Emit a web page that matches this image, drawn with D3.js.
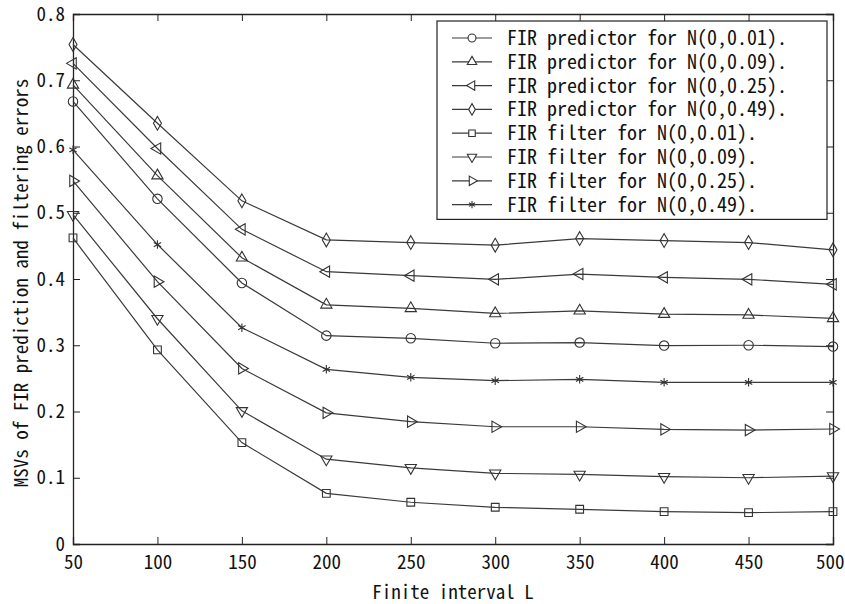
<!DOCTYPE html>
<html>
<head>
<meta charset="utf-8">
<script src="https://cdn.jsdelivr.net/npm/d3@7"></script>
<style>
  body { margin: 0; background: #fff; }
  svg text { font-family: "Noto Sans Mono CJK JP", "Liberation Mono", monospace; fill: #111; }
</style>
</head>
<body>
<div id="chart"></div>
<script>
// Finite interval L (x values)
const intervals = [50, 100, 150, 200, 250, 300, 350, 400, 450, 500];

// MSVs
const predictor001 = [0.668, 0.521, 0.394, 0.3145, 0.3105, 0.303, 0.304, 0.2995, 0.300, 0.298];
const predictor009 = [0.693, 0.556, 0.432, 0.361, 0.3557, 0.348, 0.352, 0.347, 0.3457, 0.3406];
const predictor025 = [0.7255, 0.597, 0.475, 0.411, 0.405, 0.3995, 0.4075, 0.4025, 0.3995, 0.392];
const predictor049 = [0.754, 0.635, 0.518, 0.459, 0.455, 0.451, 0.461, 0.458, 0.455, 0.444];
const filter001 = [0.462, 0.293, 0.153, 0.0765, 0.063, 0.0554, 0.0524, 0.0488, 0.0473, 0.0488];
const filter009 = [0.497, 0.340, 0.201, 0.128, 0.115, 0.1067, 0.105, 0.1016, 0.100, 0.1026];
const filter025 = [0.548, 0.396, 0.265, 0.198, 0.1846, 0.177, 0.177, 0.173, 0.172, 0.1736];
const filter049 = [0.595, 0.452, 0.3265, 0.2637, 0.2516, 0.2465, 0.2486, 0.244, 0.244, 0.244];

const seriesLabels = [
  'FIR predictor for N(0,0.01).',
  'FIR predictor for N(0,0.09).',
  'FIR predictor for N(0,0.25).',
  'FIR predictor for N(0,0.49).',
  'FIR filter for N(0,0.01).',
  'FIR filter for N(0,0.09).',
  'FIR filter for N(0,0.25).',
  'FIR filter for N(0,0.49).'
];
const seriesValues = [predictor001, predictor009, predictor025, predictor049,
                      filter001, filter009, filter025, filter049];

const xTicks = [50, 100, 150, 200, 250, 300, 350, 400, 450, 500];
const yTicks = [0, 0.1, 0.2, 0.3, 0.4, 0.5, 0.6, 0.7, 0.8];

// Set constants
const WIDTH = 845;
const HEIGHT = 604;
const LEFT = 73;
const RIGHT = 833;
const TOP = 14;
const BOTTOM = 544;
const TICK = 7;
const FONT = 19;
const LINE_COLOR = '#3a3a3a';

// marker shapes: symbol type + rotation
const markers = [
  { type: d3.symbolCircle, rotate: 0, size: 70 },
  { type: d3.symbolTriangle, rotate: 0, size: 55 },
  { type: d3.symbolTriangle, rotate: -90, size: 55 },
  { type: d3.symbolDiamond, rotate: 0, size: 55 },
  { type: d3.symbolSquare, rotate: 0, size: 60 },
  { type: d3.symbolTriangle, rotate: 180, size: 55 },
  { type: d3.symbolTriangle, rotate: 90, size: 55 },
  { type: d3.symbolAsterisk, rotate: 0, size: 50 }
];

const xScale = d3.scaleLinear()
                 .domain([50, 500])
                 .range([LEFT, RIGHT]);
const yScale = d3.scaleLinear()
                 .domain([0, 0.8])
                 .range([BOTTOM, TOP]);

const svg = d3.select('#chart')
              .append('svg')
              .attr('width', WIDTH)
              .attr('height', HEIGHT);

// Axes with inward ticks on all four sides
const fmtY = d => d === 0 ? '0' : d3.format('.1f')(d);

const xAxis = d3.axisBottom(xScale).tickValues(xTicks).tickSize(-TICK).tickPadding(12);
const xg = svg.append('g')
   .attr('class', 'axis')
   .attr('transform', 'translate(0, ' + BOTTOM + ')')
   .call(xAxis);

const xAxisTop = d3.axisTop(xScale).tickValues(xTicks).tickSize(-TICK).tickFormat('');
svg.append('g')
   .attr('class', 'axis')
   .attr('transform', 'translate(0, ' + TOP + ')')
   .call(xAxisTop);

const yAxis = d3.axisLeft(yScale).tickValues(yTicks).tickSize(-TICK).tickPadding(8).tickFormat(fmtY);
svg.append('g')
   .attr('class', 'axis')
   .attr('transform', 'translate(' + LEFT + ', 0)')
   .call(yAxis);

const yAxisRight = d3.axisRight(yScale).tickValues(yTicks).tickSize(-TICK).tickFormat('');
svg.append('g')
   .attr('class', 'axis')
   .attr('transform', 'translate(' + RIGHT + ', 0)')
   .call(yAxisRight);

svg.selectAll('.axis path')
   .attr('stroke', '#222')
   .attr('stroke-width', 1.3);
svg.selectAll('.axis line')
   .attr('stroke', '#222');
svg.selectAll('.axis text')
   .attr('font-size', FONT)
   .style('font-family', '"Noto Sans Mono CJK JP", "Liberation Mono", monospace')
   .attr('fill', '#111');

// last x label sits against the right edge, as in the original
xg.selectAll('.tick text')
  .filter(d => d === 500)
  .attr('text-anchor', 'end')
  .attr('x', 11);

// Plot the series
const line = d3.line()
               .x((d, i) => xScale(intervals[i]))
               .y(d => yScale(d));

seriesValues.forEach((values, s) => {
  const g = svg.append('g');
  g.append('path')
   .datum(values)
   .attr('d', line)
   .attr('fill', 'none')
   .attr('stroke', LINE_COLOR)
   .attr('stroke-width', 1.2);

  const m = markers[s];
  g.selectAll('path.marker')
   .data(values)
   .enter()
   .append('path')
   .attr('class', 'marker')
   .attr('d', d3.symbol().type(m.type).size(m.size))
   .attr('transform', (d, i) => 'translate(' + xScale(intervals[i]) + ',' + yScale(d) + ') rotate(' + m.rotate + ')')
   .attr('fill', 'none')
   .attr('stroke', '#333')
   .attr('stroke-width', 1.1);
});

// Legend
const LEG_X = 437;
const LEG_Y = 21;
const LEG_W = 390;
const ROW = 23.8;
const legend = svg.append('g');
legend.append('rect')
      .attr('x', LEG_X)
      .attr('y', LEG_Y)
      .attr('width', LEG_W)
      .attr('height', ROW * seriesLabels.length + 8)
      .attr('fill', '#fff')
      .attr('stroke', '#222')
      .attr('stroke-width', 1.2);

seriesLabels.forEach((label, s) => {
  const cy = LEG_Y + 17 + s * ROW;
  const m = markers[s];
  legend.append('line')
        .attr('x1', LEG_X + 15)
        .attr('x2', LEG_X + 55)
        .attr('y1', cy)
        .attr('y2', cy)
        .attr('stroke', LINE_COLOR)
        .attr('stroke-width', 1.2);
  legend.append('path')
        .attr('d', d3.symbol().type(m.type).size(m.size * 0.7))
        .attr('transform', 'translate(' + (LEG_X + 35) + ',' + cy + ') rotate(' + m.rotate + ')')
        .attr('fill', '#fff')
        .attr('stroke', '#333')
        .attr('stroke-width', 1.1);
  legend.append('text')
        .attr('x', LEG_X + 70)
        .attr('y', cy)
        .attr('dy', '0.35em')
        .attr('font-size', FONT + 1)
        .text(label);
});

// Axis titles
svg.append('text')
   .attr('x', (LEFT + RIGHT) / 2)
   .attr('y', 592)
   .attr('dy', '0.35em')
   .attr('text-anchor', 'middle')
   .attr('font-size', FONT)
   .text('Finite interval L');

svg.append('text')
   .attr('transform', 'translate(21,' + ((TOP + BOTTOM) / 2 + 4) + ') rotate(-90)')
   .attr('dy', '0.35em')
   .attr('text-anchor', 'middle')
   .attr('font-size', FONT)
   .text('MSVs of FIR prediction and filtering errors');
</script>
</body>
</html>
